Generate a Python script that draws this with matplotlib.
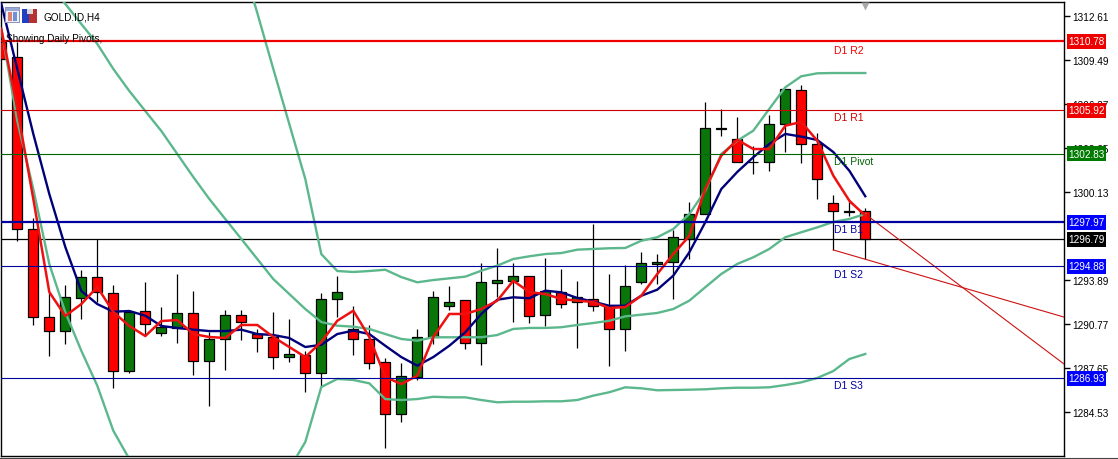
import matplotlib
matplotlib.use("Agg")
import matplotlib.pyplot as plt
import numpy as np
from matplotlib.patches import Rectangle

plt.rcParams["font.family"] = ["Liberation Sans Narrow", "Liberation Sans", "DejaVu Sans"]

opens = [1310.73, 1309.69, 1297.50, 1291.27, 1290.28, 1292.62, 1294.10, 1292.97, 1287.47, 1291.70, 1290.14,
         1290.50, 1291.56, 1288.16, 1289.72, 1291.42, 1290.07, 1289.86, 1288.44, 1288.61, 1287.31, 1292.55,
         1290.43, 1289.72, 1288.09, 1284.41, 1287.05, 1289.86, 1292.07, 1292.48, 1289.43, 1293.68, 1293.84,
         1294.18, 1291.44, 1293.04, 1292.34, 1292.55, 1292.07, 1290.43, 1293.77, 1295.00, 1295.15, 1296.80,
         1298.56, 1304.58, 1303.87, 1302.24, 1302.22, 1304.93, 1307.36, 1303.50, 1299.34, 1298.80, 1298.80]
closes = [1309.53, 1297.50, 1291.27, 1290.28, 1292.69, 1294.10, 1293.04, 1287.47, 1291.63, 1290.78, 1290.57,
          1291.56, 1288.16, 1289.72, 1291.42, 1290.92, 1289.79, 1288.44, 1288.66, 1287.31, 1292.55, 1293.04,
          1289.72, 1288.04, 1284.41, 1287.12, 1289.86, 1292.69, 1292.34, 1289.43, 1293.75, 1293.89, 1294.18,
          1291.35, 1293.14, 1292.19, 1292.69, 1292.07, 1290.43, 1293.45, 1295.08, 1295.15, 1296.92, 1298.56,
          1304.63, 1304.65, 1302.22, 1302.24, 1304.93, 1307.41, 1303.50, 1301.04, 1298.80, 1298.71, 1296.80]
highs = [1310.73, 1310.73, 1298.28, 1293.04, 1293.54, 1294.60, 1296.76, 1293.54, 1291.63, 1293.77, 1291.98,
         1294.32, 1293.12, 1290.21, 1291.77, 1291.77, 1290.43, 1291.63, 1291.13, 1288.89, 1292.97, 1294.20,
         1292.05, 1290.71, 1288.37, 1288.02, 1290.43, 1293.12, 1293.47, 1292.48, 1295.10, 1296.16, 1295.10,
         1294.18, 1295.45, 1294.67, 1293.84, 1297.86, 1294.32, 1294.96, 1295.90, 1295.73, 1297.45, 1299.41,
         1306.51, 1306.00, 1305.43, 1303.40, 1305.57, 1307.41, 1307.69, 1304.30, 1299.91, 1299.41, 1298.99]
lows = [1309.53, 1296.67, 1290.73, 1288.53, 1289.36, 1291.13, 1292.34, 1286.27, 1287.33, 1289.95, 1289.95,
        1289.43, 1287.19, 1285.00, 1287.55, 1289.67, 1288.82, 1287.60, 1288.11, 1285.99, 1286.41, 1291.30,
        1288.61, 1287.62, 1282.03, 1283.84, 1286.84, 1289.36, 1291.79, 1289.01, 1287.90, 1292.69, 1290.94,
        1290.85, 1290.64, 1291.91, 1289.10, 1291.72, 1287.83, 1288.89, 1293.61, 1293.61, 1292.55, 1295.38,
        1298.56, 1304.08, 1302.22, 1301.40, 1301.63, 1302.97, 1302.17, 1299.63, 1296.02, 1298.42, 1295.38]

ma_fast = [1311.66, 1306.00, 1299.63, 1293.04, 1291.35, 1292.19, 1293.40, 1291.63, 1290.64, 1289.93, 1290.99,
           1291.06, 1290.07, 1289.86, 1289.79, 1290.71, 1290.71, 1289.86, 1289.15, 1288.44, 1289.50, 1291.01,
           1291.72, 1289.86, 1287.03, 1286.53, 1287.12, 1289.86, 1291.49, 1291.49, 1291.84, 1292.43, 1293.84,
           1293.04, 1292.90, 1292.55, 1292.43, 1292.34, 1291.91, 1291.98, 1292.78, 1294.32, 1295.73, 1297.01,
           1300.33, 1302.69, 1303.82, 1303.16, 1303.16, 1304.81, 1305.08, 1303.75, 1301.28, 1299.51, 1298.44]
ma_slow = [1313.43, 1308.83, 1304.23, 1299.98, 1296.23, 1293.12, 1292.19, 1291.65, 1291.70, 1291.37, 1290.64,
           1290.50, 1290.38, 1290.28, 1290.28, 1290.38, 1290.07, 1290.00, 1289.79, 1289.15, 1289.31, 1290.07,
           1290.31, 1290.07, 1289.24, 1288.44, 1287.83, 1288.44, 1289.24, 1290.19, 1291.49, 1292.50, 1292.67,
           1292.60, 1293.14, 1293.02, 1292.62, 1292.36, 1292.07, 1292.07, 1292.78, 1293.21, 1294.20, 1295.85,
           1297.98, 1300.33, 1301.54, 1302.58, 1303.52, 1304.23, 1304.04, 1303.80, 1302.95, 1301.63, 1299.82]

# bollinger bands, nan where the band is off the chart
nan = np.nan
bb_upper = [nan] * 15 + [1316.61, 1312.79, 1308.83, 1304.93, 1301.04, 1295.73, 1294.53, 1294.46, 1294.53, 1294.62,
                         1294.10, 1293.73, 1293.89, 1294.01, 1294.13, 1294.55, 1294.91, 1295.38, 1295.57, 1295.73,
                         1295.80, 1296.04, 1296.09, 1296.14, 1296.16, 1296.67, 1296.92, 1297.50, 1298.56, 1300.21,
                         1302.81, 1303.75, 1304.46, 1306.00, 1307.53, 1308.31, 1308.52, 1308.54, 1308.54, 1308.54]
bb_mid = [nan] * 3 + [1314.84, 1313.43, 1312.01, 1310.60, 1308.83, 1307.27, 1305.85, 1304.44, 1302.81, 1301.18,
                      1299.63, 1298.21, 1296.80, 1295.38, 1293.96, 1292.90, 1291.84, 1290.92, 1290.66, 1290.59,
                      1290.43, 1290.07, 1289.72, 1289.60, 1289.84, 1289.84, 1289.84, 1289.84, 1290.00, 1290.43,
                      1290.50, 1290.50, 1290.55, 1290.71, 1290.85, 1291.01, 1291.32, 1291.44, 1291.56, 1291.84,
                      1292.43, 1293.38, 1294.32, 1295.03, 1295.50, 1296.09, 1296.92, 1297.27, 1297.62, 1298.00,
                      1298.21, 1298.56]
bb_lower = [1311.66, 1305.15, 1300.33, 1295.03, 1291.61, 1288.89, 1286.41, 1283.23, 1281.23, 1279.10] + [nan] * 8 + \
           [1280.52, 1282.43, 1286.32, 1286.89, 1286.82, 1286.58, 1285.47, 1285.40, 1285.47, 1285.63, 1285.59,
            1285.59, 1285.40, 1285.24, 1285.28, 1285.28, 1285.31, 1285.31, 1285.40, 1285.71, 1285.95, 1286.30,
            1286.23, 1286.09, 1286.11, 1286.13, 1286.16, 1286.23, 1286.27, 1286.27, 1286.30, 1286.46, 1286.65,
            1286.96, 1287.45, 1288.30, 1288.66]

# trendlines (bar index, price)
trend1_x = [52, 66.42]
trend1_y = [1296.02, 1291.27]
trend2_x = [53, 66.42]
trend2_y = [1299.41, 1287.95]

tick_vals = [1312.61, 1309.49, 1306.37, 1303.25, 1300.13, 1293.89, 1290.77, 1287.65, 1284.53]

pivot_vals = [1310.78, 1305.92, 1302.83, 1297.97, 1294.88, 1286.93]
pivot_names = ["D1 R2", "D1 R1", "D1 Pivot", "D1 B1", "D1 S2", "D1 S3"]
pivot_colors = ["#ee0000", "#cc0000", "#006400", "#0000a0", "#0000a0", "#0000a0"]
pivot_tags = ["#ee0000", "#ee0000", "#007a00", "#0000ff", "#0000ff", "#0000ff"]
pivot_widths = [1.6, 0.8, 0.8, 1.6, 0.8, 0.8]
pivot_label_y = [1310.2, 1305.4, 1302.3, 1297.5, 1294.35, 1286.45]
last_price = 1296.79

# grey shift marker at the top of the chart
marker_x = 54
marker_y = 1313.25

fig = plt.figure(figsize=(11.18, 4.6), dpi=100)
ax = fig.add_axes([1.5 / 1118, 3.3 / 460, 1062.5 / 1118, 453.7 / 460])
ax.set_xlim(0.0125, 66.42)
ax.set_ylim(1281.46, 1313.566)

idx = np.arange(len(opens))
o = np.array(opens)
c = np.array(closes)
colors = ["#ff0000" if b < a else "#0a760a" for a, b in zip(o, c)]
ax.vlines(idx, lows, highs, color="black", lw=0.9, zorder=2)
ax.bar(idx, np.abs(c - o), bottom=np.minimum(o, c), width=0.625, color=colors,
       edgecolor="black", linewidth=0.9, zorder=3)

ax.axhline(last_price, color="black", lw=0.9, zorder=1)

ax.plot(idx, bb_upper, color="#5cb88c", lw=1.7, zorder=4)
ax.plot(idx, bb_mid, color="#5cb88c", lw=1.7, zorder=4)
ax.plot(idx, bb_lower, color="#5cb88c", lw=1.7, zorder=4)
ax.plot(idx, ma_slow, color="#00007a", lw=1.7, zorder=5)
ax.plot(idx, ma_fast, color="#ee1111", lw=1.8, zorder=6)
ax.plot(trend1_x, trend1_y, color="#cc1111", lw=0.8, zorder=5)
ax.plot(trend2_x, trend2_y, color="#cc1111", lw=0.8, zorder=5)
ax.plot([marker_x], [marker_y], marker="v", ms=6, color="#a8a8a8", mec="none", zorder=5)

for v, col, w, name, ly in zip(pivot_vals, pivot_colors, pivot_widths, pivot_names, pivot_label_y):
    ax.axhline(v, color=col, lw=w, zorder=7)
    ax.text(52.05, ly, name, color=col, fontsize=7.5, va="center", ha="left", zorder=8)

ax.yaxis.tick_right()
ax.set_yticks(tick_vals)
ax.set_yticklabels(["%.2f" % t for t in tick_vals], fontsize=7.2, color="black")
ax.tick_params(axis="y", length=4, width=1, pad=2)
ax.set_xticks([])
for s in ax.spines.values():
    s.set_linewidth(1.0)

# price tags over the axis, fixed size boxes
trans = ax.get_yaxis_transform()
tags = pivot_vals + [last_price]
tag_cols = pivot_tags + ["black"]
for v, col in zip(tags, tag_cols):
    ax.add_patch(Rectangle((1.0028, v - 0.53), 39 / 1062.5, 1.06, transform=trans, facecolor=col,
                           edgecolor="none", clip_on=False, zorder=19))
    ax.text(1.0028 + 19.5 / 1062.5, v, "%.2f" % v, color="white", fontsize=7.2, va="center", ha="center",
            transform=trans, clip_on=False, zorder=20)

fig.text(43 / 1118, 1 - 17 / 460, "GOLD.ID,H4", fontsize=7.2, va="center", color="black")
ax.text(5 / 1062.5, 1 - 35.5 / 453.7, "Showing Daily Pivots,", fontsize=7.2, va="center",
        transform=ax.transAxes, zorder=9)

# terminal icons and bottom edge
for x, y, w, h, col in [(5, 8, 15, 16, "#8a94bc"), (6, 9, 13, 14, "#eef0f8"), (6, 9, 13, 3, "#9aa8d8"),
                        (8, 13, 4, 9, "#e08070"), (13, 13, 4, 9, "#7090d8"),
                        (22, 10, 7, 14, "#2040c0"), (29, 10, 8, 14, "#b83030"), (27, 10, 6, 5, "#d8d8d8")]:
    fig.add_artist(Rectangle((x / 1118, 1 - (y + h) / 460), w / 1118, h / 460, transform=fig.transFigure,
                             facecolor=col, edgecolor="none"))
fig.add_artist(plt.Line2D([0, 1], [1 / 460, 1 / 460], color="#444444", lw=0.8))

fig.savefig("out.png", dpi=100)
